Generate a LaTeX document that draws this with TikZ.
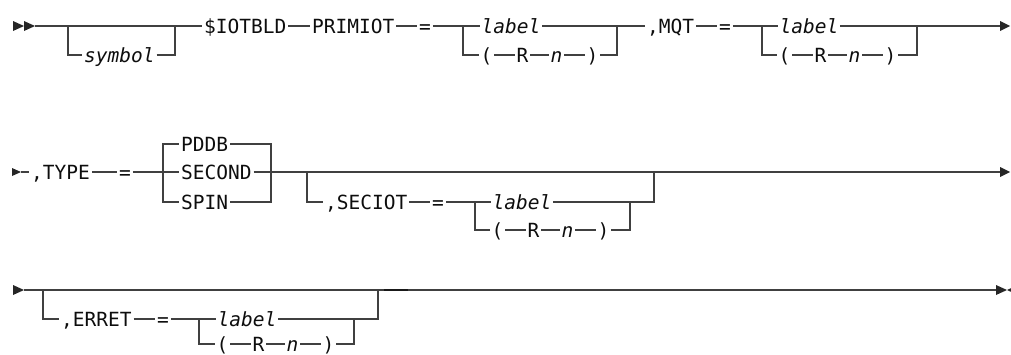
\documentclass[tikz,border=0pt]{standalone}
\usepackage{fontspec}
\newfontfamily\railfont{DejaVu Sans Mono}

\tikzset{
  tok/.style={font=\railfont\fontsize{19.5}{22}\selectfont, inner sep=1.5pt,
    text height=14pt, text depth=0pt, text=black!95},
  var/.style={tok, font=\railfont\itshape\fontsize{19.5}{22}\selectfont},
  tip/.style={fill=black!85},
}

% ( R n ) group: prefix, x of "(", y
\newcommand{\regopt}[3]{%
  \node[tok] (#1o) at (#2,#3) {(};
  \node[tok] (#1r) at ({#2+36},#3) {R};
  \node[var] (#1n) at ({#2+70},#3) {n};
  \node[tok] (#1c) at ({#2+106},#3) {)};
  \draw (#1o) -- (#1r) -- (#1n) -- (#1c);
}

\begin{document}
\begin{tikzpicture}[x=1pt, y=-1pt, line width=1.2pt, color=black!75]

    \useasboundingbox (0,0) rectangle (1011,354);

    % First line
    \coordinate (s1) at (13,26);
    \coordinate (go1) at (35,26);
    \coordinate (symL) at (68,26);
    \coordinate (symR) at (175,26);
    \node[var, anchor=west] (symbol) at (82,55) {symbol};
    \node[tok, anchor=west] (iotbld) at (202,26) {\$IOTBLD};
    \node[tok, anchor=west] (primiot) at (310,26) {PRIMIOT};
    \node[tok] (eqprim) at (425,26) {=};
    \coordinate (primL) at (463,26);
    \node[var, anchor=west] (lblprim) at (479.5,26) {label};
    \regopt{pr}{486.5}{55}
    \coordinate (primR) at (617,26);
    \node[tok, anchor=west] (mqt) at (645,26) {,MQT};
    \node[tok] (eqmqt) at (725,26) {=};
    \coordinate (mqtL) at (762,26);
    \node[var, anchor=west] (lblmqt) at (777.5,26) {label};
    \regopt{mq}{784.5}{55}
    \coordinate (mqtR) at (917,26);
    \coordinate (end1) at (1000,26);

    \fill[tip] (s1) ++(0,-5) -- ++(11,5) -- ++(-11,5) -- cycle;
    \fill[tip] (s1) ++(11,-5) -- ++(11,5) -- ++(-11,5) -- cycle;
    \draw (go1) -- (iotbld) -- (primiot) -- (eqprim) -- (lblprim) -- (mqt)
        -- (eqmqt) -- (lblmqt) -- (end1);
    \draw (symL) |- (symbol) -| (symR);
    \draw (primL) |- (pro);
    \draw (prc) -| (primR);
    \draw (mqtL) |- (mqo);
    \draw (mqc) -| (mqtR);
    \fill[tip] (end1) ++(0,-5) -- ++(10,5) -- ++(-10,5) -- cycle;

    % Second line
    \coordinate (s2) at (12,172);
    \coordinate (go2) at (21,172);
    \node[tok, anchor=west] (type) at (29,172) {,TYPE};
    \node[tok] (eqtype) at (125,172) {=};
    \coordinate (typeL) at (163,172);
    \node[tok, anchor=west] (pddb) at (179,144) {PDDB};
    \node[tok, anchor=west] (second) at (179,172) {SECOND};
    \node[tok, anchor=west] (spin) at (179,202) {SPIN};
    \coordinate (typeR) at (271,172);
    \coordinate (secL) at (307,172);
    \node[tok, anchor=west] (seciot) at (323,202) {,SECIOT};
    \node[tok] (eqsec) at (438,202) {=};
    \coordinate (secIL) at (475,202);
    \node[var, anchor=west] (lblsec) at (490.5,202) {label};
    \regopt{se}{497.5}{230}
    \coordinate (secIR) at (630,202);
    \coordinate (secR) at (654,172);
    \coordinate (end2) at (1000,172);

    \fill[tip] (s2) ++(0,-4) -- ++(9,4) -- ++(-9,4) -- cycle;
    \draw (go2) -- (type) -- (eqtype) -- (second) -- (end2);
    \draw (typeL) |- (pddb) -| (typeR);
    \draw (typeL) |- (spin) -| (typeR);
    \draw (secL) |- (seciot) -- (eqsec) -- (lblsec) -| (secR);
    \draw (secIL) |- (seo);
    \draw (sec) -| (secIR);
    \fill[tip] (end2) ++(0,-5) -- ++(10,5) -- ++(-10,5) -- cycle;

    % Third line
    \coordinate (s3) at (13,290);
    \coordinate (go3) at (24,290);
    \coordinate (errL) at (43,290);
    \node[tok, anchor=west] (erret) at (59,319) {,ERRET};
    \node[tok] (eqerr) at (163,319) {=};
    \coordinate (errIL) at (199,319);
    \node[var, anchor=west] (lblerr) at (215.5,319) {label};
    \regopt{er}{222.5}{344}
    \coordinate (errIR) at (354,319);
    \coordinate (errR) at (378,290);
    \coordinate (thA) at (384,290);
    \coordinate (thB) at (408,290);
    \coordinate (end3) at (996,290);

    \fill[tip] (s3) ++(0,-5) -- ++(11,5) -- ++(-11,5) -- cycle;
    \draw (go3) -- (end3);
    \draw[line width=2.2pt, black!90] (thA) -- (thB);
    \draw (errL) |- (erret) -- (eqerr) -- (lblerr) -| (errR);
    \draw (errIL) |- (ero);
    \draw (erc) -| (errIR);
    \fill[tip] (end3) ++(0,-5) -- ++(11,5) -- ++(-11,5) -- cycle;
    \fill[tip] (end3) ++(11,0) -- ++(11,-5) -- ++(0,10) -- cycle;

\end{tikzpicture}
\end{document}
